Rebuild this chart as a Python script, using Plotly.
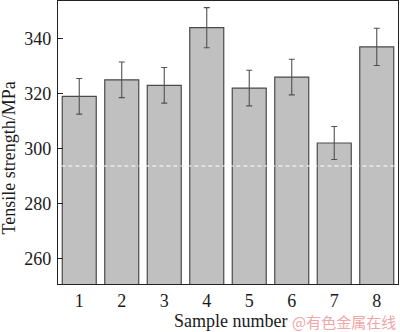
import plotly.graph_objects as go

# Tensile strength of each sample, with standard deviation
samples = [1, 2, 3, 4, 5, 6, 7, 8]
strength = [319, 325, 323, 344, 322, 326, 302, 337]
error = [6.5, 6.5, 6.5, 7.3, 6.5, 6.5, 6.0, 6.8]
reference_level = 293.6

y_ticks = [260, 280, 300, 320, 340]

serif = "Liberation Serif"

fig = go.Figure()
fig.add_trace(go.Bar(
    x=samples,
    y=strength,
    width=0.8,
    marker=dict(color="#c0c0c0", line=dict(color="#4a4a4a", width=1.2)),
    error_y=dict(type="data", array=error, visible=True,
                 color="#505050", thickness=1.1, width=3),
))

# dashed reference level across the plot
fig.add_shape(type="line", xref="paper", yref="y",
              x0=0.01, x1=0.995, y0=reference_level, y1=reference_level,
              line=dict(color="white", width=1.1, dash="4px,3px"))

fig.update_layout(
    width=400, height=332,
    margin=dict(l=58, r=2, t=1, b=48),
    paper_bgcolor="white", plot_bgcolor="white",
    showlegend=False,
    bargap=0.2,
    font=dict(family=serif, size=18, color="#1a1a1a"),
    xaxis=dict(
        range=[0.5, 8.5],
        tickmode="array", tickvals=samples, ticktext=[str(s) for s in samples],
        ticks="", showgrid=False, zeroline=False,
        showline=True, linecolor="#222", linewidth=1.3, mirror=True,
        tickfont=dict(family=serif, size=18, color="#1a1a1a"),
        ticklabelstandoff=0,
    ),
    yaxis=dict(
        range=[250.65, 353.7],
        tickmode="array", tickvals=y_ticks,
        ticks="inside", ticklen=5, tickwidth=1, tickcolor="#222",
        showgrid=False, zeroline=False,
        showline=True, linecolor="#222", linewidth=1.3, mirror=True,
        tickfont=dict(family=serif, size=18, color="#1a1a1a"),
        ticklabelstandoff=2,
    ),
    annotations=[
        dict(text="Tensile strength/MPa", xref="paper", yref="paper",
             x=-0.143, y=0.445, xanchor="center", yanchor="middle",
             textangle=-90, showarrow=False,
             font=dict(family=serif, size=18, color="#1a1a1a")),
        dict(text="Sample number", xref="paper", yref="paper",
             x=0.508, y=-0.13, xanchor="center", yanchor="middle",
             showarrow=False,
             font=dict(family=serif, size=18, color="#1a1a1a")),
        dict(text="@有色金属在线", xref="paper", yref="paper",
             x=1.0, y=-0.133, xanchor="right", yanchor="middle",
             showarrow=False,
             font=dict(family="Noto Sans CJK SC", size=15, color="#f0a6a6")),
    ],
)

fig.write_html("out.html")
